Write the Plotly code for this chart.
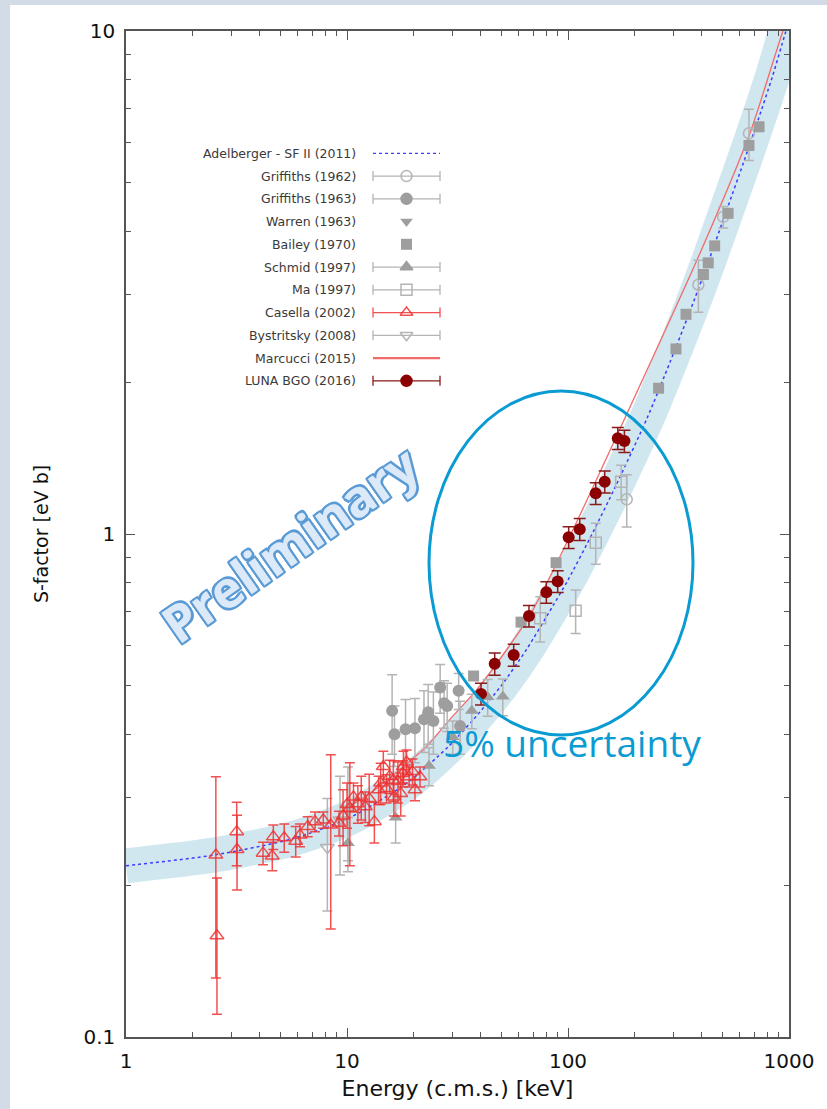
import plotly.graph_objects as go

# ---------------- data ----------------
# Adelberger - SF II (2011) curve (blue dotted) and its 5% band
adel_E = [1, 2.5, 5.7, 10.3, 18.7, 28.6, 37.2, 50, 65, 85.5, 100, 130, 165, 228, 290, 356, 430, 524,
          620, 716, 840, 959, 1030]
adel_S = [0.219, 0.230, 0.248, 0.273, 0.320, 0.377, 0.427, 0.50, 0.59, 0.72, 0.81, 1.01, 1.25, 1.70,
          2.20, 2.77, 3.46, 4.42, 5.45, 6.55, 8.1, 9.85, 10.9]

# Marcucci (2015) curve (red solid)
marc_E = [10, 13.1, 18.7, 22.9, 29.2, 38.6, 56.6, 67.3, 102, 191, 396, 666, 939, 1000]
marc_S = [0.285, 0.308, 0.350, 0.378, 0.428, 0.490, 0.615, 0.690, 0.990, 1.79, 3.62, 6.27, 10.0, 10.7]

# Griffiths (1962)
g62_E = [184.4, 389, 504, 659]
g62_S = [1.172, 3.13, 4.27, 6.26]
g62_err = [0.14, 0.37, 0.21, 0.73]

# Griffiths (1963)
g63_E = [16.0, 16.4, 18.4, 20.3, 22.3, 23.3, 24.6, 26.4, 27.5, 28.4, 32.0, 32.5]
g63_S = [0.445, 0.400, 0.409, 0.411, 0.428, 0.442, 0.425, 0.495, 0.461, 0.455, 0.488, 0.415]
g63_err = [0.08, 0.055, 0.06, 0.06, 0.06, 0.06, 0.06, 0.055, 0.05, 0.05, 0.04, 0.05]

# Warren (1963) - no point visible in the picture
war_E = []
war_S = []

# Bailey (1970)
bai_E = [37.4, 61.3, 88.3, 257, 308, 342, 410, 431, 461, 530, 659, 732]
bai_S = [0.522, 0.668, 0.877, 1.949, 2.333, 2.734, 3.28, 3.46, 3.74, 4.34, 5.92, 6.45]

# Schmid (1997)
sch_E = [10.1, 16.6, 23.5, 30.1, 36.7, 43.3, 50.7]
sch_S = [0.243, 0.273, 0.346, 0.395, 0.445, 0.474, 0.475]
sch_err = [0.03, 0.03, 0.03, 0.03, 0.035, 0.04, 0.04]

# Ma (1997)
ma_E = [74.9, 108.3, 133.5, 174]
ma_S = [0.680, 0.704, 0.961, 1.27]
ma_err = [0.07, 0.07, 0.09, 0.10]

# Casella (2002)
cas_E = [2.55, 2.58, 3.17, 3.18, 4.17, 4.64, 4.59, 5.20, 5.86, 6.13, 6.64, 7.17, 7.81, 8.44,
         9.2, 9.6, 10.0, 10.3, 10.7, 11.2, 11.6, 12.1, 12.6, 13.3, 13.9, 14.2, 14.6, 15.1, 15.6,
         16.2, 16.3, 17.0, 17.5, 17.9, 18.0, 18.6, 19.1, 19.8, 20.3, 21.4]
cas_S = [0.230, 0.159, 0.256, 0.236, 0.232, 0.250, 0.229, 0.249, 0.245, 0.252, 0.262, 0.268,
         0.270, 0.264, 0.266, 0.275, 0.290, 0.285, 0.300, 0.291, 0.300, 0.287, 0.298, 0.268,
         0.310, 0.320, 0.345, 0.312, 0.330, 0.324, 0.300, 0.322, 0.305, 0.334, 0.345, 0.352,
         0.329, 0.337, 0.310, 0.329]
cas_err = [0.099, 0.048, 0.037, 0.040, 0.012, 0.014, 0.015, 0.016, 0.017, 0.013, 0.012, 0.012,
           0.010, 0.100, 0.015, 0.035, 0.030, 0.066, 0.020, 0.025, 0.030, 0.020, 0.035, 0.025,
           0.020, 0.030, 0.025, 0.020, 0.025, 0.030, 0.025, 0.030, 0.030, 0.020, 0.025, 0.020,
           0.015, 0.020, 0.015, 0.015]

# Bystritsky (2008)
bys_E = [8.15, 9.3, 10.1]
bys_S = [0.238, 0.270, 0.284]
bys_err = [0.06, 0.06, 0.06]

# LUNA BGO (2016)
luna_E = [40.4, 46.6, 56.8, 66.6, 79.8, 89.8, 100.7, 113, 133.5, 146.6, 168, 180]
luna_S = [0.481, 0.552, 0.575, 0.687, 0.766, 0.805, 0.985, 1.022, 1.205, 1.27, 1.55, 1.53]
luna_err = [0.024, 0.028, 0.029, 0.034, 0.038, 0.040, 0.049, 0.051, 0.060, 0.064, 0.078, 0.077]

legend_names = ["Adelberger - SF II (2011)", "Griffiths (1962)", "Griffiths (1963)", "Warren (1963)",
                "Bailey (1970)", "Schmid (1997)", "Ma (1997)", "Casella (2002)",
                "Bystritsky (2008)", "Marcucci (2015)", "LUNA BGO (2016)"]

x_ticks = [1, 10, 100, 1000]
x_ticktext = ["1", "10", "100", "1000"]
y_ticks = [0.1, 1, 10]
y_ticktext = ["0.1", "1", "10"]

# ---------------- styles ----------------
W, H = 827, 1109
L, R, T, B = 126, 38, 31, 72
PW, PH = W - L - R, H - T - B

GRAY = "#9e9e9e"
GRAY_E = "#b4b4b4"
RED = "rgba(238,50,50,0.85)"
DARKRED = "#8b0000"
BAND = "#d0e7f0"
BLUE = "#3c3cff"
MARC = "#f26a6a"
AXC = "#555555"
CYAN = "#0a9bd2"
FONT = "DejaVu Sans"


def px2paper_x(px):
    return (px - L) / PW


def px2paper_y(py):
    return (H - B - py) / PH


fig = go.Figure()

# 5% band and Adelberger curve
fig.add_trace(go.Scatter(x=adel_E, y=adel_S, mode="lines",
                         line=dict(color=BAND, width=35, shape="spline", smoothing=0.7),
                         hoverinfo="skip", showlegend=False))
fig.add_trace(go.Scatter(x=adel_E, y=adel_S, mode="lines",
                         line=dict(color=BLUE, width=1.5, dash="dot", shape="spline", smoothing=0.7),
                         showlegend=False))
fig.add_trace(go.Scatter(x=marc_E, y=marc_S, mode="lines",
                         line=dict(color=MARC, width=1.3, shape="spline", smoothing=0.7),
                         showlegend=False))


def err(arr, color, w=5, th=1.5):
    return dict(type="data", array=arr, color=color, thickness=th, width=w, visible=True)


# gray datasets
fig.add_trace(go.Scatter(x=bys_E, y=bys_S, mode="markers", error_y=err(bys_err, GRAY_E),
                         marker=dict(symbol="triangle-down-open", size=12, color=GRAY_E,
                                     line=dict(width=1.5, color=GRAY_E)),
                         showlegend=False))
fig.add_trace(go.Scatter(x=sch_E, y=sch_S, mode="markers", error_y=err(sch_err, GRAY_E),
                         marker=dict(symbol="triangle-up", size=12, color=GRAY), showlegend=False))
fig.add_trace(go.Scatter(x=g63_E, y=g63_S, mode="markers", error_y=err(g63_err, GRAY_E),
                         marker=dict(symbol="circle", size=12, color=GRAY), showlegend=False))
fig.add_trace(go.Scatter(x=g62_E, y=g62_S, mode="markers", error_y=err(g62_err, GRAY_E),
                         marker=dict(symbol="circle-open", size=11, color=GRAY_E,
                                     line=dict(width=1.5, color=GRAY_E)),
                         showlegend=False))
fig.add_trace(go.Scatter(x=ma_E, y=ma_S, mode="markers", error_y=err(ma_err, GRAY_E),
                         marker=dict(symbol="square-open", size=11, color=GRAY_E,
                                     line=dict(width=1.5, color=GRAY_E)),
                         showlegend=False))
fig.add_trace(go.Scatter(x=war_E, y=war_S, mode="markers",
                         marker=dict(symbol="triangle-down", size=12, color=GRAY), showlegend=False))
fig.add_trace(go.Scatter(x=bai_E, y=bai_S, mode="markers",
                         marker=dict(symbol="square", size=11, color=GRAY), showlegend=False))

# Casella
fig.add_trace(go.Scatter(x=cas_E, y=cas_S, mode="markers", error_y=err(cas_err, RED),
                         marker=dict(symbol="triangle-up-open", size=12, color=RED,
                                     line=dict(width=1.5, color=RED)),
                         showlegend=False))
# LUNA
fig.add_trace(go.Scatter(x=luna_E, y=luna_S, mode="markers", error_y=err(luna_err, "#8b1a1a", w=6, th=1.5),
                         marker=dict(symbol="circle", size=12, color=DARKRED), showlegend=False))

# ---------------- manual legend (text left, sample right) ----------------
row0, dy = 153.3, 22.75
xl, xr = px2paper_x(373), px2paper_x(440)
xc = (xl + xr) / 2
half = (xr - xl) / 2
text_x = px2paper_x(358)

sample_style = [
    ("line", BLUE, "dot", None, None),
    ("bar", GRAY_E, None, "circle-open", GRAY_E),
    ("bar", GRAY_E, None, "circle", GRAY),
    ("mark", None, None, "triangle-down", GRAY),
    ("mark", None, None, "square", GRAY),
    ("bar", GRAY_E, None, "triangle-up", GRAY),
    ("bar", GRAY_E, None, "square-open", GRAY_E),
    ("bar", RED, None, "triangle-up-open", RED),
    ("bar", GRAY_E, None, "triangle-down-open", GRAY_E),
    ("line", MARC, "solid", None, None),
    ("bar", "#8b1a1a", None, "circle", DARKRED),
]

annotations = []
for i, name in enumerate(legend_names):
    yp = px2paper_y(row0 + dy * i)
    kind, lc, dash, sym, mc = sample_style[i]
    if kind == "line":
        fig.add_trace(go.Scatter(x=[xl, xr], y=[yp, yp], mode="lines", xaxis="x2", yaxis="y2",
                                 line=dict(color=lc, width=1.3 if dash == "dot" else 2.2, dash=dash),
                                 showlegend=False, hoverinfo="skip"))
    elif kind == "bar":
        fig.add_trace(go.Scatter(x=[xc], y=[yp], mode="markers", xaxis="x2", yaxis="y2",
                                 error_x=dict(type="data", array=[half], color=lc, thickness=1.3, width=5),
                                 marker=dict(symbol=sym, size=11, color=mc, line=dict(width=1.5, color=mc)),
                                 showlegend=False, hoverinfo="skip"))
    else:
        fig.add_trace(go.Scatter(x=[xc], y=[yp], mode="markers", xaxis="x2", yaxis="y2",
                                 marker=dict(symbol=sym, size=11, color=mc),
                                 showlegend=False, hoverinfo="skip"))
    annotations.append(dict(x=text_x, y=yp, xref="paper", yref="paper", text=name, showarrow=False,
                            xanchor="right", yanchor="middle",
                            font=dict(family=FONT, size=12.5, color="#3a3a3a")))

# overlay texts
outline = ", ".join(f"{a}px {b}px 0 #5b9bd5" for a, b in
                    [(-2, -2), (2, -2), (-2, 2), (2, 2), (0, -2), (0, 2), (-2, 0), (2, 0)])
annotations.append(dict(x=px2paper_x(290), y=px2paper_y(543), xref="paper", yref="paper",
                        text="<b>Preliminary</b>", showarrow=False, textangle=-35,
                        xanchor="center", yanchor="middle",
                        font=dict(family="Open Sans", size=51, color="#dce9f8", shadow=outline)))
annotations.append(dict(x=px2paper_x(441), y=px2paper_y(743), xref="paper", yref="paper",
                        text="5% uncertainty", showarrow=False, xanchor="left", yanchor="middle",
                        font=dict(family="Open Sans", size=37, color=CYAN)))

shapes = [
    dict(type="rect", xref="paper", yref="paper", x0=px2paper_x(10), x1=px2paper_x(W), y0=px2paper_y(H),
         y1=px2paper_y(5), fillcolor="white", line=dict(width=0), layer="below"),
    dict(type="circle", xref="paper", yref="paper", x0=px2paper_x(429), x1=px2paper_x(693),
         y0=px2paper_y(735), y1=px2paper_y(391), line=dict(color=CYAN, width=3), layer="above"),
]

minor_x = [m * 10 ** d for d in range(3) for m in range(2, 10)]
minor_y = [m * 10 ** d for d in (-1, 0) for m in range(2, 10)]

axis_common = dict(type="log", showline=True, linecolor=AXC, linewidth=1.5, mirror="ticks", ticks="inside",
                   ticklen=9, tickwidth=1.2, tickcolor=AXC, showgrid=False, zeroline=False, tickmode="array")

fig.update_layout(
    width=W, height=H, margin=dict(l=L, r=R, t=T, b=B, autoexpand=False),
    paper_bgcolor="#d3dce6", plot_bgcolor="white",
    xaxis=dict(axis_common, range=[0, 3], tickvals=x_ticks, ticktext=x_ticktext,
               tickfont=dict(family=FONT, size=20, color="#111"), ticklabelstandoff=5,
               minor=dict(ticks="inside", ticklen=5, tickcolor=AXC, tickvals=minor_x, showgrid=False),
               title=dict(text="Energy (c.m.s.) [keV]", font=dict(family=FONT, size=22, color="#111"),
                          standoff=9)),
    yaxis=dict(axis_common, range=[-1, 1], tickvals=y_ticks, ticktext=y_ticktext,
               tickfont=dict(family=FONT, size=20, color="#111"), ticklabelstandoff=5,
               minor=dict(ticks="inside", ticklen=5, tickcolor=AXC, tickvals=minor_y, showgrid=False),
               title=dict(text="S-factor [eV b]", font=dict(family=FONT, size=19, color="#111"),
                          standoff=30)),
    xaxis2=dict(overlaying="x", range=[0, 1], visible=False, anchor="y2"),
    yaxis2=dict(overlaying="y", range=[0, 1], visible=False, anchor="x2"),
    annotations=annotations, shapes=shapes, showlegend=False,
)

fig.write_html("out.html")
